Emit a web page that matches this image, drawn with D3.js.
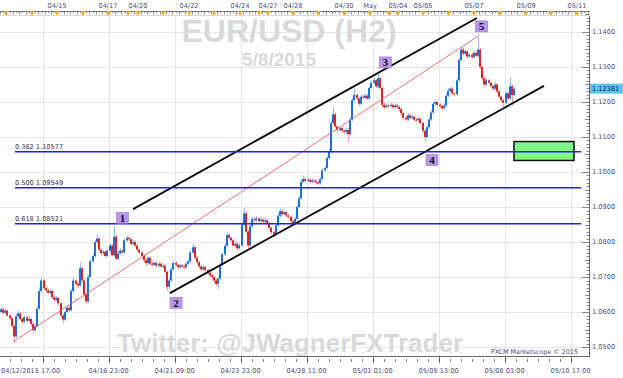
<!DOCTYPE html>
<html><head><meta charset="utf-8">
<script src="https://cdn.jsdelivr.net/npm/d3@7"></script>
<style>body{margin:0;background:#fff}svg{display:block}</style>
</head><body><svg id="c" width="623" height="378"></svg>
<script>
// ---------- DATA ----------
const firstOpen = 1.0600;
const closes = [
1.0608,1.0598,1.0604,1.0590,1.0582,1.0560,1.0530,1.0588,1.0596,1.0580,
1.0572,1.0585,1.0575,1.0580,1.0566,1.0548,1.0560,1.0610,1.0660,1.0690,
1.0668,1.0662,1.0655,1.0660,1.0642,1.0635,1.0640,1.0625,1.0590,1.0578,
1.0600,1.0612,1.0605,1.0660,1.0690,1.0680,1.0676,1.0725,1.0690,1.0650,
1.0630,1.0700,1.0745,1.0760,1.0800,1.0810,1.0778,1.0768,1.0772,1.0760,
1.0775,1.0790,1.0762,1.0815,1.0752,1.0768,1.0775,1.0770,1.0805,1.0812,
1.0808,1.0795,1.0800,1.0790,1.0778,1.0770,1.0760,1.0748,1.0740,1.0755,
1.0738,1.0735,1.0740,1.0732,1.0738,1.0730,1.0732,1.0715,1.0672,1.0690,
1.0722,1.0740,1.0735,1.0728,1.0733,1.0730,1.0728,1.0738,1.0745,1.0770,
1.0785,1.0755,1.0742,1.0730,1.0722,1.0728,1.0720,1.0712,1.0705,1.0700,
1.0690,1.0680,1.0695,1.0735,1.0765,1.0790,1.0820,1.0812,1.0805,1.0790,
1.0795,1.0782,1.0790,1.0850,1.0882,1.0830,1.0790,1.0845,1.0865,1.0862,
1.0868,1.0860,1.0864,1.0858,1.0862,1.0855,1.0840,1.0828,1.0822,1.0848,
1.0875,1.0888,1.0880,1.0885,1.0876,1.0872,1.0860,1.0855,1.0866,1.0900,
1.0925,1.0972,1.0980,1.0975,1.0978,1.0972,1.0976,1.0974,1.0970,1.0968,
1.0980,1.1005,1.1012,1.1040,1.1060,1.1140,1.1165,1.1130,1.1120,1.1125,
1.1118,1.1115,1.1120,1.1108,1.1150,1.1205,1.1220,1.1210,1.1195,1.1215,
1.1212,1.1218,1.1210,1.1240,1.1255,1.1262,1.1245,1.1268,1.1240,1.1192,
1.1185,1.1190,1.1188,1.1192,1.1185,1.1190,1.1186,1.1180,1.1168,1.1155,
1.1150,1.1162,1.1155,1.1158,1.1150,1.1148,1.1152,1.1140,1.1118,1.1100,
1.1128,1.1150,1.1170,1.1195,1.1200,1.1192,1.1188,1.1182,1.1190,1.1218,
1.1232,1.1238,1.1225,1.1222,1.1262,1.1320,1.1350,1.1338,1.1345,1.1330,
1.1335,1.1328,1.1340,1.1332,1.1350,1.1300,1.1268,1.1250,1.1262,1.1255,
1.1245,1.1238,1.1250,1.1230,1.1215,1.1205,1.1198,1.1225,1.1210,1.1245,
1.1220,1.12381];
const highs = [
1.0614,1.0612,1.0610,1.0607,1.0594,1.0585,1.0564,1.0594,1.0604,1.0600,
1.0584,1.0590,1.0590,1.0588,1.0584,1.0570,1.0566,1.0616,1.0670,1.0700,
1.0695,1.0674,1.0666,1.0666,1.0664,1.0648,1.0646,1.0644,1.0628,1.0594,
1.0606,1.0620,1.0616,1.0666,1.0700,1.0694,1.0686,1.0742,1.0728,1.0694,
1.0655,1.0706,1.0750,1.0768,1.0806,1.0820,1.0814,1.0782,1.0778,1.0776,
1.0780,1.0796,1.0794,1.0845,1.0820,1.0774,1.0782,1.0780,1.0810,1.0818,
1.0816,1.0812,1.0806,1.0804,1.0794,1.0782,1.0774,1.0765,1.0752,1.0760,
1.0758,1.0744,1.0746,1.0744,1.0742,1.0742,1.0738,1.0736,1.0718,1.0696,
1.0728,1.0746,1.0745,1.0738,1.0738,1.0737,1.0734,1.0742,1.0752,1.0776,
1.0795,1.0788,1.0760,1.0746,1.0734,1.0734,1.0732,1.0724,1.0716,1.0710,
1.0704,1.0694,1.0700,1.0740,1.0770,1.0796,1.0830,1.0826,1.0816,1.0810,
1.0802,1.0798,1.0796,1.0856,1.0898,1.0886,1.0834,1.0850,1.0872,1.0870,
1.0874,1.0872,1.0870,1.0868,1.0868,1.0866,1.0858,1.0844,1.0832,1.0854,
1.0880,1.0895,1.0892,1.0890,1.0888,1.0880,1.0875,1.0864,1.0870,1.0905,
1.0932,1.0978,1.0990,1.0984,1.0984,1.0982,1.0982,1.0980,1.0978,1.0974,
1.0985,1.1010,1.1018,1.1046,1.1066,1.1146,1.1185,1.1170,1.1134,1.1132,
1.1130,1.1122,1.1126,1.1125,1.1156,1.1212,1.1238,1.1226,1.1214,1.1220,
1.1220,1.1224,1.1222,1.1246,1.1262,1.1270,1.1266,1.1287,1.1272,1.1244,
1.1198,1.1196,1.1195,1.1198,1.1196,1.1195,1.1194,1.1190,1.1184,1.1172,
1.1160,1.1168,1.1166,1.1164,1.1162,1.1156,1.1158,1.1156,1.1144,1.1122,
1.1134,1.1156,1.1176,1.1200,1.1206,1.1204,1.1196,1.1192,1.1196,1.1224,
1.1240,1.1244,1.1242,1.1230,1.1268,1.1326,1.1358,1.1354,1.1350,1.1348,
1.1340,1.1340,1.1346,1.1344,1.1385,1.1354,1.1304,1.1272,1.1268,1.1266,
1.1258,1.1250,1.1256,1.1254,1.1234,1.1218,1.1208,1.1230,1.1228,1.1270,
1.1250,1.1244];
const lows = [
1.0596,1.0592,1.0594,1.0586,1.0576,1.0555,1.0514,1.0526,1.0584,1.0576,
1.0566,1.0568,1.0570,1.0571,1.0560,1.0540,1.0544,1.0556,1.0606,1.0655,
1.0662,1.0656,1.0650,1.0650,1.0638,1.0630,1.0631,1.0620,1.0584,1.0568,
1.0574,1.0596,1.0600,1.0602,1.0656,1.0674,1.0670,1.0672,1.0684,1.0644,
1.0622,1.0626,1.0696,1.0740,1.0755,1.0794,1.0772,1.0762,1.0764,1.0755,
1.0756,1.0770,1.0758,1.0758,1.0748,1.0748,1.0764,1.0765,1.0766,1.0800,
1.0802,1.0790,1.0790,1.0785,1.0772,1.0765,1.0755,1.0740,1.0730,1.0736,
1.0734,1.0730,1.0731,1.0727,1.0728,1.0726,1.0725,1.0710,1.0660,1.0666,
1.0686,1.0718,1.0730,1.0722,1.0724,1.0725,1.0722,1.0724,1.0734,1.0740,
1.0766,1.0750,1.0738,1.0724,1.0716,1.0718,1.0715,1.0706,1.0700,1.0694,
1.0684,1.0672,1.0665,1.0690,1.0730,1.0760,1.0786,1.0806,1.0800,1.0784,
1.0786,1.0776,1.0778,1.0786,1.0846,1.0825,1.0780,1.0786,1.0840,1.0856,
1.0858,1.0855,1.0856,1.0853,1.0854,1.0850,1.0835,1.0822,1.0815,1.0818,
1.0844,1.0870,1.0875,1.0876,1.0870,1.0866,1.0854,1.0850,1.0850,1.0862,
1.0896,1.0920,1.0968,1.0970,1.0972,1.0968,1.0968,1.0970,1.0965,1.0963,
1.0964,1.0976,1.1000,1.1008,1.1035,1.1055,1.1134,1.1125,1.1114,1.1115,
1.1112,1.1108,1.1110,1.1085,1.1104,1.1146,1.1200,1.1204,1.1188,1.1190,
1.1206,1.1208,1.1205,1.1206,1.1236,1.1250,1.1240,1.1240,1.1235,1.1186,
1.1180,1.1182,1.1183,1.1184,1.1180,1.1182,1.1181,1.1175,1.1162,1.1150,
1.1144,1.1146,1.1150,1.1150,1.1145,1.1142,1.1144,1.1135,1.1112,1.1086,
1.1096,1.1124,1.1146,1.1166,1.1190,1.1186,1.1182,1.1176,1.1178,1.1186,
1.1214,1.1228,1.1220,1.1216,1.1218,1.1258,1.1316,1.1332,1.1334,1.1325,
1.1326,1.1322,1.1324,1.1328,1.1328,1.1295,1.1262,1.1244,1.1246,1.1250,
1.1240,1.1232,1.1234,1.1225,1.1210,1.1198,1.1185,1.1194,1.1204,1.1206,
1.1190,1.1216];

const priceTicks = [1.05,1.06,1.07,1.08,1.09,1.10,1.11,1.12,1.13,1.14];
const bottomTickBars = [20,51,82,113,144,175,206,237,268];
const bottomTickLabels = ["","04/16 23:00","04/21 09:00","04/23 23:00","04/28 11:00","05/01 01:00","05/05 13:00","05/08 03:00","05/10 17:00"];
const startLabel = "04/12/2015 17:00";
const dayTickBars = [2.8,15,26.8,39,50.7,60.1,64.8,76.6,88.8,100.5,112.7,121.7,125.9,137.6,149.4,161.6,173.8,182.7,186.9,198.7,210.9,222.6,234.9,247.1,258.8,271];
const dayTickLabels = ["","","04/15","","04/17","","04/20","","04/22","","04/24","","04/27","04/28","","04/30","May","","05/04","05/05","","05/07","","05/09","","05/11"];

const fibRatios = ["0.382","0.500","0.618"];
const fibPrices = [1.10577,1.09549,1.08521];
const fibBars = [7,273];

const upperChannel = [[62.5,1.0894],[224,1.1440]];
const lowerChannel = [[79.8,1.0654],[255.5,1.1246]];
const trendLine = [[6,1.0514],[225,1.1390]];

const waveNames = ["1","2","3","4","5"];
const waveBars = [57.5,82.7,181,202.9,226.2];
const wavePrices = [1.0869,1.0626,1.1313,1.1034,1.1416];

const zoneBars = [241.4,269.6];
const zonePrices = [1.1087,1.1033];

const lastPrice = 1.12381;

// ---------- RENDER ----------
const svg = d3.select("#c");
const W = 623, H = 378;
const P = {left:0, right:582, top:15, bottom:356, axis:589};
const x = d3.scaleLinear().domain([0,268]).range([0,570.6]);
const y = d3.scaleLinear().domain([1.05,1.14]).range([347,32]);
const axisCol = "#4b4b7d";
const smallFont = "DejaVu Sans, Verdana, sans-serif";

svg.append("rect").attr("width",W).attr("height",H).attr("fill","#fff");
svg.append("defs").append("clipPath").attr("id","clip")
  .append("rect").attr("x",P.left).attr("y",P.top).attr("width",P.right-P.left).attr("height",P.bottom-P.top);

// grid
const grid = svg.append("g");
grid.selectAll("line.h").data(priceTicks).join("line")
  .attr("x1",P.left).attr("x2",P.right).attr("y1",d=>Math.round(y(d))+0.5).attr("y2",d=>Math.round(y(d))+0.5)
  .attr("stroke","#e6e6e6");
grid.selectAll("line.v").data(bottomTickBars).join("line")
  .attr("x1",d=>Math.round(x(d))+0.5).attr("x2",d=>Math.round(x(d))+0.5).attr("y1",P.top).attr("y2",P.bottom)
  .attr("stroke","#e6e6e6");

// watermarks
const wm = svg.append("g").attr("fill","#d9d9d9").attr("font-family","Liberation Sans, Arial, sans-serif").attr("font-weight","bold").attr("text-anchor","middle");
wm.append("text").attr("x",289).attr("y",42).attr("font-size",32).text("EUR/USD (H2)");
wm.append("text").attr("x",279).attr("y",66).attr("font-size",19).text("5/8/2015");
wm.append("text").attr("x",290).attr("y",352).attr("font-size",26).text("Twitter: @JWagnerFXTrader");

const plot = svg.append("g").attr("clip-path","url(#clip)");

// green zone
plot.append("rect")
  .attr("x",x(zoneBars[0])).attr("width",x(zoneBars[1])-x(zoneBars[0]))
  .attr("y",y(zonePrices[0])).attr("height",y(zonePrices[1])-y(zonePrices[0]))
  .attr("fill","#80f880").attr("stroke","#111").attr("stroke-width",1.5);

// candles
const candles = closes.map((c,i)=>({i, o: i ? closes[i-1] : firstOpen, h: highs[i], l: lows[i], c}));
const up = d => d.c >= d.o;
plot.selectAll("line.wick").data(candles).join("line")
  .attr("x1",d=>Math.round(x(d.i))+1.5).attr("x2",d=>Math.round(x(d.i))+1.5)
  .attr("y1",d=>y(d.h)).attr("y2",d=>y(d.l))
  .attr("stroke",d=>up(d)?"#8dbcef":"#f2a0a0").attr("stroke-width",1);
plot.selectAll("rect.body").data(candles).join("rect")
  .attr("x",d=>Math.round(x(d.i))).attr("width",2)
  .attr("y",d=>y(Math.max(d.o,d.c)))
  .attr("height",d=>Math.max(1,Math.abs(y(d.o)-y(d.c))))
  .attr("fill",d=>up(d)?"#1e6fd9":"#e42222");

// fib lines
const fib = svg.append("g");
fib.selectAll("line").data(fibPrices).join("line")
  .attr("x1",x(fibBars[0])).attr("x2",x(fibBars[1]))
  .attr("y1",d=>y(d)).attr("y2",d=>y(d))
  .attr("stroke","#2020f0").attr("stroke-width",1.6);
fib.selectAll("text").data(fibPrices).join("text")
  .attr("x",x(fibBars[0])).attr("y",d=>y(d)-3)
  .attr("font-family",smallFont).attr("font-size",6.6).attr("fill","#333")
  .text((d,i)=>fibRatios[i]+" "+d.toFixed(5));

// channel & trend lines
const lineGen = d3.line().x(d=>x(d[0])).y(d=>y(d[1]));
plot.append("path").attr("d",lineGen(trendLine)).attr("stroke","#f06060").attr("stroke-width",0.9).attr("fill","none");
plot.append("path").attr("d",lineGen(upperChannel)).attr("stroke","#000").attr("stroke-width",1.8).attr("fill","none");
plot.append("path").attr("d",lineGen(lowerChannel)).attr("stroke","#000").attr("stroke-width",1.8).attr("fill","none");

// wave labels
const wg = svg.append("g");
waveNames.forEach((n,i)=>{
  const cx = x(waveBars[i]), cy = y(wavePrices[i]);
  wg.append("rect").attr("x",cx-6).attr("y",cy-5.5).attr("width",12).attr("height",11)
    .attr("fill","#b897ec").attr("stroke","#9a78d4").attr("stroke-width",0.6);
  wg.append("text").attr("x",cx).attr("y",cy+4).attr("text-anchor","middle")
    .attr("font-family","Liberation Serif, Times New Roman, serif").attr("font-weight","bold").attr("font-size",11)
    .attr("fill","#111").text(n);
});

// right axis
const ra = svg.append("g");
ra.append("line").attr("x1",P.axis+0.5).attr("x2",P.axis+0.5).attr("y1",P.top).attr("y2",P.bottom).attr("stroke","#666");
const minor = d3.range(1.050,1.1451,0.001);
ra.selectAll("line.m").data(minor).join("line")
  .attr("x1",(d,i)=> i%10===0 ? P.axis-7 : (i%5===0 ? P.axis-4 : P.axis-2.5)).attr("x2",P.axis)
  .attr("y1",d=>Math.round(y(d))+0.5).attr("y2",d=>Math.round(y(d))+0.5)
  .attr("stroke","#666").attr("stroke-width",0.8);
ra.selectAll("text").data(priceTicks).join("text")
  .attr("x",P.axis+3).attr("y",d=>y(d)+2.4)
  .attr("font-family",smallFont).attr("font-size",6.6).attr("fill",axisCol)
  .text(d=>d.toFixed(4));
ra.append("rect").attr("x",P.axis+1).attr("y",y(lastPrice)-5).attr("width",W-P.axis-1).attr("height",10).attr("fill","#5cc4f0");
ra.append("text").attr("x",P.axis+3).attr("y",y(lastPrice)+2.4)
  .attr("font-family",smallFont).attr("font-size",6.6).attr("fill","#1a1a4a").text(lastPrice.toFixed(5));

// bottom axis
const ba = svg.append("g");
ba.append("line").attr("x1",P.left).attr("x2",P.axis+1).attr("y1",P.bottom+0.5).attr("y2",P.bottom+0.5).attr("stroke","#666");
const bMinor = d3.range(bottomTickBars[0]-31, bottomTickBars[bottomTickBars.length-1]+1, 31/6);
ba.selectAll("line.m").data(bMinor).join("line")
  .attr("x1",d=>Math.round(x(d))+0.5).attr("x2",d=>Math.round(x(d))+0.5)
  .attr("y1",P.bottom+3).attr("y2",P.bottom+6).attr("stroke","#666").attr("stroke-width",0.8);
ba.selectAll("line.M").data(bottomTickBars).join("line")
  .attr("x1",d=>Math.round(x(d))+0.5).attr("x2",d=>Math.round(x(d))+0.5)
  .attr("y1",P.bottom).attr("y2",P.bottom+7).attr("stroke","#666");
ba.selectAll("text").data(bottomTickBars).join("text")
  .attr("x",d=>x(d)).attr("y",372.5).attr("text-anchor","middle")
  .attr("font-family",smallFont).attr("font-size",6.6).attr("fill",axisCol)
  .text((d,i)=>bottomTickLabels[i]);
ba.append("text").attr("x",x(0)+1).attr("y",372.5)
  .attr("font-family",smallFont).attr("font-size",6.6).attr("fill",axisCol).text(startLabel);

// top axis
const ta = svg.append("g");
ta.append("line").attr("x1",P.left).attr("x2",P.axis+1).attr("y1",11.5).attr("y2",11.5).attr("stroke","#777");
ta.append("line").attr("x1",P.left).attr("x2",P.axis+1).attr("y1",15.5).attr("y2",15.5).attr("stroke","#ddd");
const tMinor = d3.range(0, 277, 1.5);
ta.selectAll("line.m").data(tMinor).join("line")
  .attr("x1",d=>Math.round(x(d))+0.5).attr("x2",d=>Math.round(x(d))+0.5)
  .attr("y1",11).attr("y2",(d,i)=> i%2===0 ? 14.5 : 13)
  .attr("stroke","#777").attr("stroke-width",0.8);
ta.selectAll("path.tri").data(dayTickBars).join("path")
  .attr("d",d=>{const cx=x(d); return `M${cx-2.5},11L${cx+2.5},11L${cx},16Z`;})
  .attr("fill","#f5a623");
ta.selectAll("text").data(dayTickBars).join("text")
  .attr("x",d=>x(d)).attr("y",8).attr("text-anchor","middle")
  .attr("font-family",smallFont).attr("font-size",6.6).attr("fill",axisCol)
  .text((d,i)=>dayTickLabels[i]);

// credit
svg.append("text").attr("x",578).attr("y",354).attr("text-anchor","end")
  .attr("font-family",smallFont).attr("font-size",6.4).attr("fill",axisCol).text("FXCM Marketscope © 2015");
</script></body></html>
